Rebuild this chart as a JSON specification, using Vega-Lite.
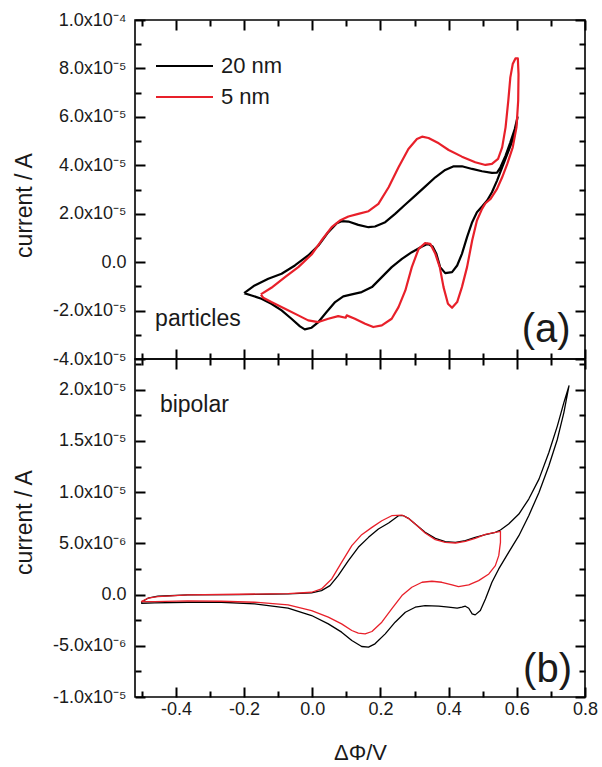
{
  "$schema": "https://vega.github.io/schema/vega-lite/v6.json",
  "padding": {"left": 12, "top": 10, "right": 5, "bottom": 0},
  "background": "white",
  "data": {"values": [
    {"p":"a","s":"20 nm","i":0,"x":-0.2,"y":-1.278e-5},
    {"p":"a","s":"20 nm","i":1,"x":-0.169,"y":-0.962e-5},
    {"p":"a","s":"20 nm","i":2,"x":-0.129,"y":-0.687e-5},
    {"p":"a","s":"20 nm","i":3,"x":-0.090,"y":-0.481e-5},
    {"p":"a","s":"20 nm","i":4,"x":-0.051,"y":-0.137e-5},
    {"p":"a","s":"20 nm","i":5,"x":-0.012,"y":0.275e-5},
    {"p":"a","s":"20 nm","i":6,"x":0.018,"y":0.687e-5},
    {"p":"a","s":"20 nm","i":7,"x":0.047,"y":1.237e-5},
    {"p":"a","s":"20 nm","i":8,"x":0.072,"y":1.608e-5},
    {"p":"a","s":"20 nm","i":9,"x":0.086,"y":1.691e-5},
    {"p":"a","s":"20 nm","i":10,"x":0.106,"y":1.677e-5},
    {"p":"a","s":"20 nm","i":11,"x":0.135,"y":1.540e-5},
    {"p":"a","s":"20 nm","i":12,"x":0.165,"y":1.443e-5},
    {"p":"a","s":"20 nm","i":13,"x":0.184,"y":1.471e-5},
    {"p":"a","s":"20 nm","i":14,"x":0.214,"y":1.649e-5},
    {"p":"a","s":"20 nm","i":15,"x":0.243,"y":1.993e-5},
    {"p":"a","s":"20 nm","i":16,"x":0.273,"y":2.378e-5},
    {"p":"a","s":"20 nm","i":17,"x":0.302,"y":2.749e-5},
    {"p":"a","s":"20 nm","i":18,"x":0.331,"y":3.120e-5},
    {"p":"a","s":"20 nm","i":19,"x":0.361,"y":3.505e-5},
    {"p":"a","s":"20 nm","i":20,"x":0.390,"y":3.808e-5},
    {"p":"a","s":"20 nm","i":21,"x":0.415,"y":3.959e-5},
    {"p":"a","s":"20 nm","i":22,"x":0.439,"y":3.959e-5},
    {"p":"a","s":"20 nm","i":23,"x":0.469,"y":3.849e-5},
    {"p":"a","s":"20 nm","i":24,"x":0.498,"y":3.753e-5},
    {"p":"a","s":"20 nm","i":25,"x":0.527,"y":3.684e-5},
    {"p":"a","s":"20 nm","i":26,"x":0.542,"y":3.698e-5},
    {"p":"a","s":"20 nm","i":27,"x":0.552,"y":3.918e-5},
    {"p":"a","s":"20 nm","i":28,"x":0.567,"y":4.399e-5},
    {"p":"a","s":"20 nm","i":29,"x":0.581,"y":4.948e-5},
    {"p":"a","s":"20 nm","i":30,"x":0.594,"y":5.498e-5},
    {"p":"a","s":"20 nm","i":31,"x":0.602,"y":5.979e-5},
    {"p":"a","s":"20 nm","i":32,"x":0.592,"y":5.2e-5},
    {"p":"a","s":"20 nm","i":33,"x":0.576,"y":4.605e-5},
    {"p":"a","s":"20 nm","i":34,"x":0.557,"y":3.918e-5},
    {"p":"a","s":"20 nm","i":35,"x":0.542,"y":3.368e-5},
    {"p":"a","s":"20 nm","i":36,"x":0.527,"y":2.887e-5},
    {"p":"a","s":"20 nm","i":37,"x":0.513,"y":2.543e-5},
    {"p":"a","s":"20 nm","i":38,"x":0.498,"y":2.296e-5},
    {"p":"a","s":"20 nm","i":39,"x":0.483,"y":2.062e-5},
    {"p":"a","s":"20 nm","i":40,"x":0.469,"y":1.649e-5},
    {"p":"a","s":"20 nm","i":41,"x":0.454,"y":1.031e-5},
    {"p":"a","s":"20 nm","i":42,"x":0.439,"y":0.344e-5},
    {"p":"a","s":"20 nm","i":43,"x":0.425,"y":-0.137e-5},
    {"p":"a","s":"20 nm","i":44,"x":0.410,"y":-0.412e-5},
    {"p":"a","s":"20 nm","i":45,"x":0.390,"y":-0.454e-5},
    {"p":"a","s":"20 nm","i":46,"x":0.375,"y":-0.206e-5},
    {"p":"a","s":"20 nm","i":47,"x":0.364,"y":0.344e-5},
    {"p":"a","s":"20 nm","i":48,"x":0.353,"y":0.646e-5},
    {"p":"a","s":"20 nm","i":49,"x":0.339,"y":0.756e-5},
    {"p":"a","s":"20 nm","i":50,"x":0.322,"y":0.646e-5},
    {"p":"a","s":"20 nm","i":51,"x":0.292,"y":0.412e-5},
    {"p":"a","s":"20 nm","i":52,"x":0.263,"y":0.137e-5},
    {"p":"a","s":"20 nm","i":53,"x":0.233,"y":-0.206e-5},
    {"p":"a","s":"20 nm","i":54,"x":0.204,"y":-0.619e-5},
    {"p":"a","s":"20 nm","i":55,"x":0.175,"y":-1.031e-5},
    {"p":"a","s":"20 nm","i":56,"x":0.145,"y":-1.237e-5},
    {"p":"a","s":"20 nm","i":57,"x":0.116,"y":-1.333e-5},
    {"p":"a","s":"20 nm","i":58,"x":0.091,"y":-1.416e-5},
    {"p":"a","s":"20 nm","i":59,"x":0.067,"y":-1.649e-5},
    {"p":"a","s":"20 nm","i":60,"x":0.042,"y":-2.062e-5},
    {"p":"a","s":"20 nm","i":61,"x":0.018,"y":-2.474e-5},
    {"p":"a","s":"20 nm","i":62,"x":-0.002,"y":-2.708e-5},
    {"p":"a","s":"20 nm","i":63,"x":-0.022,"y":-2.777e-5},
    {"p":"a","s":"20 nm","i":64,"x":-0.036,"y":-2.653e-5},
    {"p":"a","s":"20 nm","i":65,"x":-0.061,"y":-2.337e-5},
    {"p":"a","s":"20 nm","i":66,"x":-0.090,"y":-1.993e-5},
    {"p":"a","s":"20 nm","i":67,"x":-0.120,"y":-1.718e-5},
    {"p":"a","s":"20 nm","i":68,"x":-0.149,"y":-1.512e-5},
    {"p":"a","s":"20 nm","i":69,"x":-0.178,"y":-1.375e-5},
    {"p":"a","s":"20 nm","i":70,"x":-0.2,"y":-1.278e-5},

    {"p":"a","s":"5 nm","i":0,"x":-0.151,"y":-1.333e-5},
    {"p":"a","s":"5 nm","i":1,"x":-0.120,"y":-1.058e-5},
    {"p":"a","s":"5 nm","i":2,"x":-0.080,"y":-0.619e-5},
    {"p":"a","s":"5 nm","i":3,"x":-0.041,"y":-0.206e-5},
    {"p":"a","s":"5 nm","i":4,"x":-0.002,"y":0.316e-5},
    {"p":"a","s":"5 nm","i":5,"x":0.027,"y":0.893e-5},
    {"p":"a","s":"5 nm","i":6,"x":0.057,"y":1.443e-5},
    {"p":"a","s":"5 nm","i":7,"x":0.081,"y":1.718e-5},
    {"p":"a","s":"5 nm","i":8,"x":0.106,"y":1.883e-5},
    {"p":"a","s":"5 nm","i":9,"x":0.135,"y":1.993e-5},
    {"p":"a","s":"5 nm","i":10,"x":0.165,"y":2.103e-5},
    {"p":"a","s":"5 nm","i":11,"x":0.194,"y":2.405e-5},
    {"p":"a","s":"5 nm","i":12,"x":0.224,"y":3.093e-5},
    {"p":"a","s":"5 nm","i":13,"x":0.253,"y":3.918e-5},
    {"p":"a","s":"5 nm","i":14,"x":0.282,"y":4.674e-5},
    {"p":"a","s":"5 nm","i":15,"x":0.307,"y":5.086e-5},
    {"p":"a","s":"5 nm","i":16,"x":0.322,"y":5.182e-5},
    {"p":"a","s":"5 nm","i":17,"x":0.341,"y":5.127e-5},
    {"p":"a","s":"5 nm","i":18,"x":0.371,"y":4.907e-5},
    {"p":"a","s":"5 nm","i":19,"x":0.400,"y":4.632e-5},
    {"p":"a","s":"5 nm","i":20,"x":0.439,"y":4.357e-5},
    {"p":"a","s":"5 nm","i":21,"x":0.478,"y":4.124e-5},
    {"p":"a","s":"5 nm","i":22,"x":0.508,"y":4.014e-5},
    {"p":"a","s":"5 nm","i":23,"x":0.527,"y":4.055e-5},
    {"p":"a","s":"5 nm","i":24,"x":0.545,"y":4.261e-5},
    {"p":"a","s":"5 nm","i":25,"x":0.557,"y":4.742e-5},
    {"p":"a","s":"5 nm","i":26,"x":0.567,"y":5.567e-5},
    {"p":"a","s":"5 nm","i":27,"x":0.575,"y":6.667e-5},
    {"p":"a","s":"5 nm","i":28,"x":0.581,"y":7.629e-5},
    {"p":"a","s":"5 nm","i":29,"x":0.588,"y":8.179e-5},
    {"p":"a","s":"5 nm","i":30,"x":0.596,"y":8.412e-5},
    {"p":"a","s":"5 nm","i":31,"x":0.603,"y":8.412e-5},
    {"p":"a","s":"5 nm","i":32,"x":0.605,"y":7.766e-5},
    {"p":"a","s":"5 nm","i":33,"x":0.604,"y":6.667e-5},
    {"p":"a","s":"5 nm","i":34,"x":0.599,"y":5.567e-5},
    {"p":"a","s":"5 nm","i":35,"x":0.588,"y":4.742e-5},
    {"p":"a","s":"5 nm","i":36,"x":0.572,"y":4.055e-5},
    {"p":"a","s":"5 nm","i":37,"x":0.557,"y":3.505e-5},
    {"p":"a","s":"5 nm","i":38,"x":0.542,"y":3.024e-5},
    {"p":"a","s":"5 nm","i":39,"x":0.523,"y":2.612e-5},
    {"p":"a","s":"5 nm","i":40,"x":0.508,"y":2.433e-5},
    {"p":"a","s":"5 nm","i":41,"x":0.498,"y":2.199e-5},
    {"p":"a","s":"5 nm","i":42,"x":0.483,"y":1.718e-5},
    {"p":"a","s":"5 nm","i":43,"x":0.469,"y":0.893e-5},
    {"p":"a","s":"5 nm","i":44,"x":0.454,"y":-0.206e-5},
    {"p":"a","s":"5 nm","i":45,"x":0.439,"y":-1.031e-5},
    {"p":"a","s":"5 nm","i":46,"x":0.425,"y":-1.649e-5},
    {"p":"a","s":"5 nm","i":47,"x":0.410,"y":-1.883e-5},
    {"p":"a","s":"5 nm","i":48,"x":0.398,"y":-1.718e-5},
    {"p":"a","s":"5 nm","i":49,"x":0.385,"y":-1.031e-5},
    {"p":"a","s":"5 nm","i":50,"x":0.374,"y":-0.206e-5},
    {"p":"a","s":"5 nm","i":51,"x":0.361,"y":0.344e-5},
    {"p":"a","s":"5 nm","i":52,"x":0.346,"y":0.756e-5},
    {"p":"a","s":"5 nm","i":53,"x":0.331,"y":0.784e-5},
    {"p":"a","s":"5 nm","i":54,"x":0.312,"y":0.550e-5},
    {"p":"a","s":"5 nm","i":55,"x":0.292,"y":-0.206e-5},
    {"p":"a","s":"5 nm","i":56,"x":0.273,"y":-1.168e-5},
    {"p":"a","s":"5 nm","i":57,"x":0.253,"y":-1.856e-5},
    {"p":"a","s":"5 nm","i":58,"x":0.233,"y":-2.337e-5},
    {"p":"a","s":"5 nm","i":59,"x":0.204,"y":-2.612e-5},
    {"p":"a","s":"5 nm","i":60,"x":0.179,"y":-2.680e-5},
    {"p":"a","s":"5 nm","i":61,"x":0.155,"y":-2.543e-5},
    {"p":"a","s":"5 nm","i":62,"x":0.125,"y":-2.337e-5},
    {"p":"a","s":"5 nm","i":63,"x":0.101,"y":-2.199e-5},
    {"p":"a","s":"5 nm","i":64,"x":0.098,"y":-2.296e-5},
    {"p":"a","s":"5 nm","i":65,"x":0.076,"y":-2.227e-5},
    {"p":"a","s":"5 nm","i":66,"x":0.047,"y":-2.337e-5},
    {"p":"a","s":"5 nm","i":67,"x":0.018,"y":-2.474e-5},
    {"p":"a","s":"5 nm","i":68,"x":-0.012,"y":-2.405e-5},
    {"p":"a","s":"5 nm","i":69,"x":-0.041,"y":-2.199e-5},
    {"p":"a","s":"5 nm","i":70,"x":-0.080,"y":-1.924e-5},
    {"p":"a","s":"5 nm","i":71,"x":-0.120,"y":-1.649e-5},
    {"p":"a","s":"5 nm","i":72,"x":-0.144,"y":-1.471e-5},
    {"p":"a","s":"5 nm","i":73,"x":-0.151,"y":-1.333e-5},

    {"p":"b","s":"20 nm","i":0,"x":-0.502,"y":-0.747e-6},
    {"p":"b","s":"20 nm","i":1,"x":-0.482,"y":-0.357e-6},
    {"p":"b","s":"20 nm","i":2,"x":-0.453,"y":-0.162e-6},
    {"p":"b","s":"20 nm","i":3,"x":-0.365,"y":-0.032e-6},
    {"p":"b","s":"20 nm","i":4,"x":-0.218,"y":0.0},
    {"p":"b","s":"20 nm","i":5,"x":-0.071,"y":0.065e-6},
    {"p":"b","s":"20 nm","i":6,"x":-0.002,"y":0.162e-6},
    {"p":"b","s":"20 nm","i":7,"x":0.027,"y":0.390e-6},
    {"p":"b","s":"20 nm","i":8,"x":0.052,"y":0.877e-6},
    {"p":"b","s":"20 nm","i":9,"x":0.076,"y":1.852e-6},
    {"p":"b","s":"20 nm","i":10,"x":0.106,"y":3.314e-6},
    {"p":"b","s":"20 nm","i":11,"x":0.135,"y":4.613e-6},
    {"p":"b","s":"20 nm","i":12,"x":0.165,"y":5.588e-6},
    {"p":"b","s":"20 nm","i":13,"x":0.194,"y":6.400e-6},
    {"p":"b","s":"20 nm","i":14,"x":0.224,"y":6.985e-6},
    {"p":"b","s":"20 nm","i":15,"x":0.253,"y":7.700e-6},
    {"p":"b","s":"20 nm","i":16,"x":0.268,"y":7.700e-6},
    {"p":"b","s":"20 nm","i":17,"x":0.282,"y":7.440e-6},
    {"p":"b","s":"20 nm","i":18,"x":0.302,"y":6.888e-6},
    {"p":"b","s":"20 nm","i":19,"x":0.331,"y":6.075e-6},
    {"p":"b","s":"20 nm","i":20,"x":0.361,"y":5.491e-6},
    {"p":"b","s":"20 nm","i":21,"x":0.390,"y":5.166e-6},
    {"p":"b","s":"20 nm","i":22,"x":0.420,"y":5.101e-6},
    {"p":"b","s":"20 nm","i":23,"x":0.449,"y":5.263e-6},
    {"p":"b","s":"20 nm","i":24,"x":0.478,"y":5.588e-6},
    {"p":"b","s":"20 nm","i":25,"x":0.508,"y":5.848e-6},
    {"p":"b","s":"20 nm","i":26,"x":0.537,"y":6.075e-6},
    {"p":"b","s":"20 nm","i":27,"x":0.552,"y":6.303e-6},
    {"p":"b","s":"20 nm","i":28,"x":0.576,"y":6.888e-6},
    {"p":"b","s":"20 nm","i":29,"x":0.606,"y":7.862e-6},
    {"p":"b","s":"20 nm","i":30,"x":0.635,"y":9.324e-6},
    {"p":"b","s":"20 nm","i":31,"x":0.665,"y":11.274e-6},
    {"p":"b","s":"20 nm","i":32,"x":0.694,"y":13.873e-6},
    {"p":"b","s":"20 nm","i":33,"x":0.719,"y":16.472e-6},
    {"p":"b","s":"20 nm","i":34,"x":0.738,"y":18.746e-6},
    {"p":"b","s":"20 nm","i":35,"x":0.753,"y":20.370e-6},
    {"p":"b","s":"20 nm","i":36,"x":0.738,"y":17.771e-6},
    {"p":"b","s":"20 nm","i":37,"x":0.719,"y":15.172e-6},
    {"p":"b","s":"20 nm","i":38,"x":0.694,"y":12.573e-6},
    {"p":"b","s":"20 nm","i":39,"x":0.665,"y":9.974e-6},
    {"p":"b","s":"20 nm","i":40,"x":0.635,"y":7.700e-6},
    {"p":"b","s":"20 nm","i":41,"x":0.606,"y":5.751e-6},
    {"p":"b","s":"20 nm","i":42,"x":0.576,"y":4.126e-6},
    {"p":"b","s":"20 nm","i":43,"x":0.547,"y":2.502e-6},
    {"p":"b","s":"20 nm","i":44,"x":0.527,"y":1.202e-6},
    {"p":"b","s":"20 nm","i":45,"x":0.508,"y":-0.422e-6},
    {"p":"b","s":"20 nm","i":46,"x":0.493,"y":-1.559e-6},
    {"p":"b","s":"20 nm","i":47,"x":0.478,"y":-1.982e-6},
    {"p":"b","s":"20 nm","i":48,"x":0.469,"y":-1.884e-6},
    {"p":"b","s":"20 nm","i":49,"x":0.459,"y":-1.332e-6},
    {"p":"b","s":"20 nm","i":50,"x":0.449,"y":-1.137e-6},
    {"p":"b","s":"20 nm","i":51,"x":0.439,"y":-1.235e-6},
    {"p":"b","s":"20 nm","i":52,"x":0.425,"y":-1.332e-6},
    {"p":"b","s":"20 nm","i":53,"x":0.400,"y":-1.235e-6},
    {"p":"b","s":"20 nm","i":54,"x":0.371,"y":-1.137e-6},
    {"p":"b","s":"20 nm","i":55,"x":0.331,"y":-1.072e-6},
    {"p":"b","s":"20 nm","i":56,"x":0.302,"y":-1.235e-6},
    {"p":"b","s":"20 nm","i":57,"x":0.273,"y":-1.722e-6},
    {"p":"b","s":"20 nm","i":58,"x":0.243,"y":-2.697e-6},
    {"p":"b","s":"20 nm","i":59,"x":0.214,"y":-3.834e-6},
    {"p":"b","s":"20 nm","i":60,"x":0.184,"y":-4.808e-6},
    {"p":"b","s":"20 nm","i":61,"x":0.165,"y":-5.133e-6},
    {"p":"b","s":"20 nm","i":62,"x":0.145,"y":-5.068e-6},
    {"p":"b","s":"20 nm","i":63,"x":0.116,"y":-4.483e-6},
    {"p":"b","s":"20 nm","i":64,"x":0.086,"y":-3.671e-6},
    {"p":"b","s":"20 nm","i":65,"x":0.047,"y":-2.859e-6},
    {"p":"b","s":"20 nm","i":66,"x":-0.002,"y":-2.047e-6},
    {"p":"b","s":"20 nm","i":67,"x":-0.071,"y":-1.332e-6},
    {"p":"b","s":"20 nm","i":68,"x":-0.169,"y":-0.910e-6},
    {"p":"b","s":"20 nm","i":69,"x":-0.267,"y":-0.747e-6},
    {"p":"b","s":"20 nm","i":70,"x":-0.365,"y":-0.747e-6},
    {"p":"b","s":"20 nm","i":71,"x":-0.463,"y":-0.812e-6},
    {"p":"b","s":"20 nm","i":72,"x":-0.502,"y":-0.845e-6},

    {"p":"b","s":"5 nm","i":0,"x":-0.502,"y":-0.682e-6},
    {"p":"b","s":"5 nm","i":1,"x":-0.482,"y":-0.357e-6},
    {"p":"b","s":"5 nm","i":2,"x":-0.453,"y":-0.195e-6},
    {"p":"b","s":"5 nm","i":3,"x":-0.365,"y":-0.032e-6},
    {"p":"b","s":"5 nm","i":4,"x":-0.218,"y":0.032e-6},
    {"p":"b","s":"5 nm","i":5,"x":-0.071,"y":0.097e-6},
    {"p":"b","s":"5 nm","i":6,"x":-0.002,"y":0.227e-6},
    {"p":"b","s":"5 nm","i":7,"x":0.027,"y":0.552e-6},
    {"p":"b","s":"5 nm","i":8,"x":0.057,"y":1.527e-6},
    {"p":"b","s":"5 nm","i":9,"x":0.086,"y":3.151e-6},
    {"p":"b","s":"5 nm","i":10,"x":0.116,"y":4.776e-6},
    {"p":"b","s":"5 nm","i":11,"x":0.145,"y":5.848e-6},
    {"p":"b","s":"5 nm","i":12,"x":0.175,"y":6.563e-6},
    {"p":"b","s":"5 nm","i":13,"x":0.204,"y":7.212e-6},
    {"p":"b","s":"5 nm","i":14,"x":0.233,"y":7.700e-6},
    {"p":"b","s":"5 nm","i":15,"x":0.263,"y":7.765e-6},
    {"p":"b","s":"5 nm","i":16,"x":0.282,"y":7.440e-6},
    {"p":"b","s":"5 nm","i":17,"x":0.302,"y":6.888e-6},
    {"p":"b","s":"5 nm","i":18,"x":0.331,"y":6.010e-6},
    {"p":"b","s":"5 nm","i":19,"x":0.361,"y":5.361e-6},
    {"p":"b","s":"5 nm","i":20,"x":0.390,"y":5.101e-6},
    {"p":"b","s":"5 nm","i":21,"x":0.420,"y":5.036e-6},
    {"p":"b","s":"5 nm","i":22,"x":0.449,"y":5.198e-6},
    {"p":"b","s":"5 nm","i":23,"x":0.478,"y":5.491e-6},
    {"p":"b","s":"5 nm","i":24,"x":0.508,"y":5.881e-6},
    {"p":"b","s":"5 nm","i":25,"x":0.537,"y":6.075e-6},
    {"p":"b","s":"5 nm","i":26,"x":0.552,"y":6.173e-6},
    {"p":"b","s":"5 nm","i":27,"x":0.552,"y":5.101e-6},
    {"p":"b","s":"5 nm","i":28,"x":0.547,"y":3.801e-6},
    {"p":"b","s":"5 nm","i":29,"x":0.537,"y":2.827e-6},
    {"p":"b","s":"5 nm","i":30,"x":0.518,"y":2.014e-6},
    {"p":"b","s":"5 nm","i":31,"x":0.488,"y":1.365e-6},
    {"p":"b","s":"5 nm","i":32,"x":0.459,"y":0.942e-6},
    {"p":"b","s":"5 nm","i":33,"x":0.429,"y":0.780e-6},
    {"p":"b","s":"5 nm","i":34,"x":0.410,"y":0.942e-6},
    {"p":"b","s":"5 nm","i":35,"x":0.380,"y":1.202e-6},
    {"p":"b","s":"5 nm","i":36,"x":0.351,"y":1.300e-6},
    {"p":"b","s":"5 nm","i":37,"x":0.322,"y":1.202e-6},
    {"p":"b","s":"5 nm","i":38,"x":0.292,"y":0.715e-6},
    {"p":"b","s":"5 nm","i":39,"x":0.263,"y":-0.097e-6},
    {"p":"b","s":"5 nm","i":40,"x":0.233,"y":-1.397e-6},
    {"p":"b","s":"5 nm","i":41,"x":0.204,"y":-2.697e-6},
    {"p":"b","s":"5 nm","i":42,"x":0.175,"y":-3.606e-6},
    {"p":"b","s":"5 nm","i":43,"x":0.155,"y":-3.834e-6},
    {"p":"b","s":"5 nm","i":44,"x":0.135,"y":-3.769e-6},
    {"p":"b","s":"5 nm","i":45,"x":0.116,"y":-3.509e-6},
    {"p":"b","s":"5 nm","i":46,"x":0.086,"y":-2.859e-6},
    {"p":"b","s":"5 nm","i":47,"x":0.047,"y":-2.209e-6},
    {"p":"b","s":"5 nm","i":48,"x":-0.002,"y":-1.559e-6},
    {"p":"b","s":"5 nm","i":49,"x":-0.071,"y":-1.007e-6},
    {"p":"b","s":"5 nm","i":50,"x":-0.169,"y":-0.747e-6},
    {"p":"b","s":"5 nm","i":51,"x":-0.267,"y":-0.650e-6},
    {"p":"b","s":"5 nm","i":52,"x":-0.365,"y":-0.617e-6},
    {"p":"b","s":"5 nm","i":53,"x":-0.463,"y":-0.682e-6},
    {"p":"b","s":"5 nm","i":54,"x":-0.502,"y":-0.682e-6}
  ]},
  "vconcat": [
    {
      "width": 450, "height": 339,
      "transform": [{"filter": "datum.p === 'a'"}],
      "layer": [
        {
          "mark": {"type": "line", "strokeWidth": 2.2, "strokeJoin": "round"},
          "encoding": {
            "x": {"field": "x", "type": "quantitative", "scale": {"domain": [-0.52, 0.8], "nice": false, "zero": false},
              "axis": {"orient": "bottom", "labels": false, "title": null, "offset": -10, "tickSize": 10,
                "values": [-0.5,-0.4,-0.3,-0.2,-0.1,0,0.1,0.2,0.3,0.4,0.5,0.6,0.7,0.8],
                "tickDash": {"condition": {"test": "abs(datum.value*5 - round(datum.value*5)) < 0.01", "value": [10, 0]}, "value": [0, 4, 6, 0]}}},
            "y": {"field": "y", "type": "quantitative", "scale": {"domain": [-0.00004, 0.0001], "nice": false, "zero": false},
              "axis": {"orient": "left", "title": "current / A", "titleY": 185, "titlePadding": 16.5, "labelPadding": 9, "offset": -10, "tickSize": 10,
                "values": [-0.00004,-0.00003,-0.00002,-0.00001,0,0.00001,0.00002,0.00003,0.00004,0.00005,0.00006,0.00007,0.00008,0.00009,0.0001],
                "tickDash": {"condition": {"test": "abs(datum.value/0.00002 - round(datum.value/0.00002)) < 0.01", "value": [10, 0]}, "value": [0, 4, 6, 0]},
                "labelExpr": "abs(datum.value/0.00002 - round(datum.value/0.00002)) > 0.01 ? '' : abs(datum.value) < 1e-12 ? '0.0' : (datum.value < 0 ? '-' : '') + format(abs(datum.value) / pow(10, floor(log(abs(datum.value))/LN10 + 0.000001)), '.1f') + 'x10' + ['⁻⁴','⁻⁵','⁻⁶'][-floor(log(abs(datum.value))/LN10 + 0.000001) - 4]"}},
            "color": {"field": "s", "type": "nominal", "scale": {"domain": ["20 nm", "5 nm"], "range": ["#000000", "#e8202a"]},
              "legend": {"orient": "none", "legendX": 38.5, "legendY": 35, "title": null}},
            "order": {"field": "i", "type": "quantitative"}
          }
        },
        {
          "mark": {"type": "point", "opacity": 0},
          "encoding": {
            "x": {"field": "x", "type": "quantitative", "scale": {"domain": [-0.52, 0.8], "nice": false, "zero": false},
              "axis": {"orient": "top", "labels": false, "title": null, "offset": -10, "tickSize": 10,
                "values": [-0.5,-0.4,-0.3,-0.2,-0.1,0,0.1,0.2,0.3,0.4,0.5,0.6,0.7,0.8],
                "tickDash": {"condition": {"test": "abs(datum.value*5 - round(datum.value*5)) < 0.01", "value": [10, 0]}, "value": [0, 4, 6, 0]}}},
            "y": {"field": "y", "type": "quantitative", "scale": {"domain": [-0.00004, 0.0001], "nice": false, "zero": false},
              "axis": {"orient": "right", "labels": false, "title": null, "offset": -10, "tickSize": 10,
                "values": [-0.00004,-0.00003,-0.00002,-0.00001,0,0.00001,0.00002,0.00003,0.00004,0.00005,0.00006,0.00007,0.00008,0.00009,0.0001],
                "tickDash": {"condition": {"test": "abs(datum.value/0.00002 - round(datum.value/0.00002)) < 0.01", "value": [10, 0]}, "value": [0, 4, 6, 0]}}}
          }
        },
        {
          "transform": [{"filter": "datum.i === 0 && datum.s === '20 nm'"}],
          "mark": {"type": "text", "align": "left", "baseline": "alphabetic", "fontSize": 23, "color": "#1a1a1a", "text": "particles"},
          "encoding": {
            "x": {"datum": -0.461, "type": "quantitative", "axis": null},
            "y": {"datum": -0.0000265, "type": "quantitative", "axis": null}
          }
        },
        {
          "transform": [{"filter": "datum.i === 0 && datum.s === '20 nm'"}],
          "mark": {"type": "text", "align": "center", "baseline": "alphabetic", "fontSize": 40, "color": "#1a1a1a", "text": "(a)"},
          "encoding": {
            "x": {"datum": 0.686, "type": "quantitative", "axis": null},
            "y": {"datum": -0.0000331, "type": "quantitative", "axis": null}
          }
        }
      ],
      "resolve": {"axis": {"x": "independent", "y": "independent"}}
    },
    {
      "width": 450, "height": 338,
      "transform": [{"filter": "datum.p === 'b'"}],
      "layer": [
        {
          "mark": {"type": "line", "strokeWidth": 1.3, "strokeJoin": "round"},
          "encoding": {
            "x": {"field": "x", "type": "quantitative", "scale": {"domain": [-0.52, 0.8], "nice": false, "zero": false},
              "axis": {"orient": "bottom", "title": "ΔΦ/V", "titlePadding": 24, "titleFontSize": 22, "labelPadding": 3, "offset": -10, "tickSize": 10,
                "values": [-0.5,-0.4,-0.3,-0.2,-0.1,0,0.1,0.2,0.3,0.4,0.5,0.6,0.7,0.8],
                "tickDash": {"condition": {"test": "abs(datum.value*5 - round(datum.value*5)) < 0.01", "value": [10, 0]}, "value": [0, 4, 6, 0]},
                "labelExpr": "abs(datum.value*5 - round(datum.value*5)) > 0.01 ? '' : (datum.value < 0 ? '-' : '') + format(abs(datum.value), '.1f')"}},
            "y": {"field": "y", "type": "quantitative", "scale": {"domain": [-0.00001, 0.000023], "nice": false, "zero": false},
              "axis": {"orient": "left", "title": "current / A", "titleY": 163, "titlePadding": 16.5, "labelPadding": 9, "offset": -10, "tickSize": 10,
                "values": [-0.00001,-0.0000075,-0.000005,-0.0000025,0,0.0000025,0.000005,0.0000075,0.00001,0.0000125,0.000015,0.0000175,0.00002,0.0000225],
                "tickDash": {"condition": {"test": "abs(datum.value/0.000005 - round(datum.value/0.000005)) < 0.01", "value": [10, 0]}, "value": [0, 4, 6, 0]},
                "labelExpr": "abs(datum.value/0.000005 - round(datum.value/0.000005)) > 0.01 ? '' : abs(datum.value) < 1e-12 ? '0.0' : (datum.value < 0 ? '-' : '') + format(abs(datum.value) / pow(10, floor(log(abs(datum.value))/LN10 + 0.000001)), '.1f') + 'x10' + ['⁻⁴','⁻⁵','⁻⁶'][-floor(log(abs(datum.value))/LN10 + 0.000001) - 4]"}},
            "color": {"field": "s", "type": "nominal", "scale": {"domain": ["20 nm", "5 nm"], "range": ["#000000", "#e8202a"]}, "legend": null},
            "order": {"field": "i", "type": "quantitative"}
          }
        },
        {
          "mark": {"type": "point", "opacity": 0},
          "encoding": {
            "x": {"field": "x", "type": "quantitative", "scale": {"domain": [-0.52, 0.8], "nice": false, "zero": false},
              "axis": {"orient": "top", "labels": false, "title": null, "offset": -10, "tickSize": 10,
                "values": [-0.5,-0.4,-0.3,-0.2,-0.1,0,0.1,0.2,0.3,0.4,0.5,0.6,0.7,0.8],
                "tickDash": {"condition": {"test": "abs(datum.value*5 - round(datum.value*5)) < 0.01", "value": [10, 0]}, "value": [0, 4, 6, 0]}}},
            "y": {"field": "y", "type": "quantitative", "scale": {"domain": [-0.00001, 0.000023], "nice": false, "zero": false},
              "axis": {"orient": "right", "labels": false, "title": null, "offset": -10, "tickSize": 10,
                "values": [-0.00001,-0.0000075,-0.000005,-0.0000025,0,0.0000025,0.000005,0.0000075,0.00001,0.0000125,0.000015,0.0000175,0.00002,0.0000225],
                "tickDash": {"condition": {"test": "abs(datum.value/0.000005 - round(datum.value/0.000005)) < 0.01", "value": [10, 0]}, "value": [0, 4, 6, 0]}}}
          }
        },
        {
          "transform": [{"filter": "datum.i === 0 && datum.s === '20 nm'"}],
          "mark": {"type": "text", "align": "left", "baseline": "alphabetic", "fontSize": 23, "color": "#1a1a1a", "text": "bipolar"},
          "encoding": {
            "x": {"datum": -0.447, "type": "quantitative", "axis": null},
            "y": {"datum": 0.00001781, "type": "quantitative", "axis": null}
          }
        },
        {
          "transform": [{"filter": "datum.i === 0 && datum.s === '20 nm'"}],
          "mark": {"type": "text", "align": "center", "baseline": "alphabetic", "fontSize": 40, "color": "#1a1a1a", "text": "(b)"},
          "encoding": {
            "x": {"datum": 0.69, "type": "quantitative", "axis": null},
            "y": {"datum": -0.00000851, "type": "quantitative", "axis": null}
          }
        }
      ],
      "resolve": {"axis": {"x": "independent", "y": "independent"}}
    }
  ],
  "spacing": 0,
  "bounds": "flush",
  "resolve": {"legend": {"color": "independent"}},
  "config": {
    "font": "Liberation Sans",
    "view": {"stroke": "#000000", "strokeWidth": 1.6},
    "axis": {
      "domain": false, "grid": false, "ticks": true, "zindex": 1,
      "labelFont": "Liberation Sans", "labelFontSize": 18, "labelColor": "#1a1a1a",
      "labelOverlap": false, "labelFlush": false, "labelBound": false,
      "titleFont": "Liberation Sans", "titleFontSize": 23, "titleFontWeight": "normal", "titleColor": "#1a1a1a",
      "tickColor": "black", "tickWidth": 2
    },
    "legend": {
      "symbolType": "M-3,0H3", "symbolSize": 361, "symbolStrokeWidth": 2.2,
      "labelFont": "Liberation Sans", "labelFontSize": 22, "labelColor": "#1a1a1a",
      "labelOffset": 25.5, "rowPadding": 9, "padding": 0
    }
  }
}
